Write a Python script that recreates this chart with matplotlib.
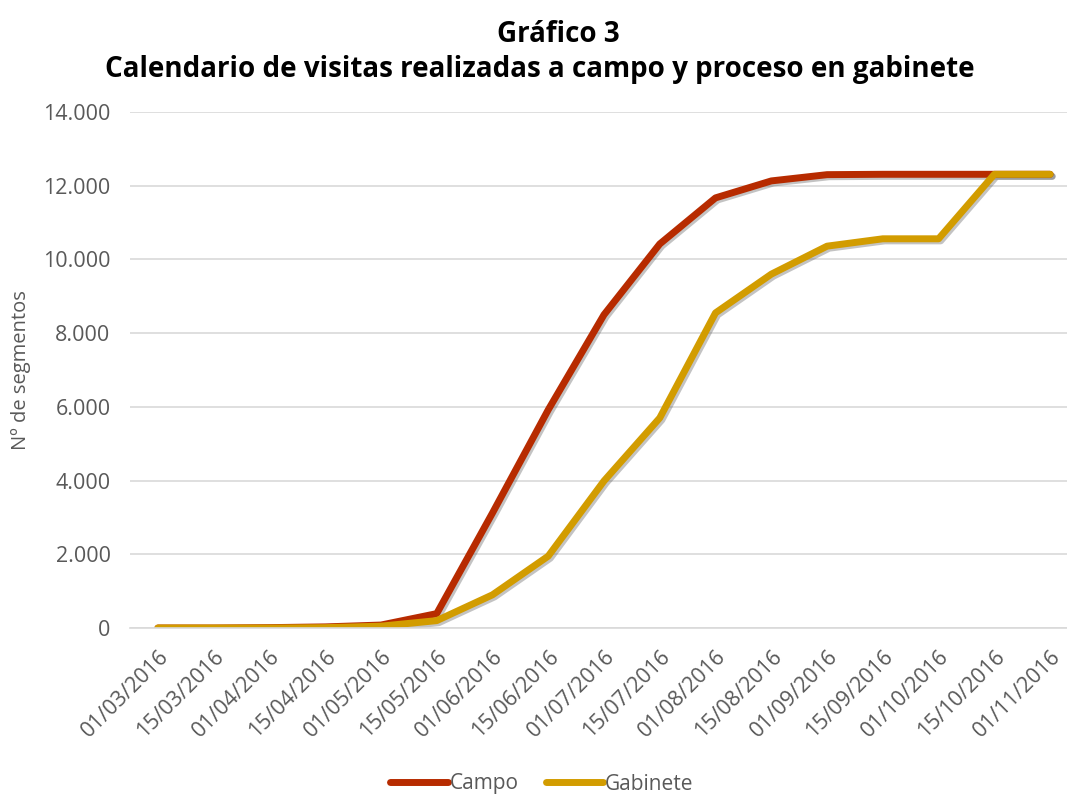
import matplotlib
matplotlib.use("Agg")
import matplotlib.pyplot as plt
import matplotlib.patheffects as pe
from matplotlib.ticker import FuncFormatter

plt.rcParams['font.family'] = ['Open Sans', 'DejaVu Sans']

fechas = ["01/03/2016", "15/03/2016", "01/04/2016", "15/04/2016", "01/05/2016",
          "15/05/2016", "01/06/2016", "15/06/2016", "01/07/2016", "15/07/2016",
          "01/08/2016", "15/08/2016", "01/09/2016", "15/09/2016", "01/10/2016",
          "15/10/2016", "01/11/2016"]
campo = [0, 0, 10, 30, 80, 390, 3120, 5920, 8500, 10420, 11670, 12130, 12300,
         12310, 12310, 12310, 12310]
gabinete = [0, 0, 0, 10, 50, 200, 900, 1950, 3990, 5700, 8550, 9600, 10360,
            10560, 10560, 12310, 12310]

fig = plt.figure(figsize=(10.67, 7.96), dpi=100)
ax = fig.add_axes([130/1067, 1 - 628/796, 948/1067, 516/796])

x = list(range(len(fechas)))
sombra = [pe.SimpleLineShadow(offset=(1.5, -1.5), alpha=0.35, shadow_color='#555555'), pe.Normal()]
ax.plot(x, campo, color='#B72B00', lw=5, label='Campo', solid_capstyle='round',
        solid_joinstyle='round', path_effects=sombra)
ax.plot(x, gabinete, color='#D29C00', lw=5, label='Gabinete', solid_capstyle='round',
        solid_joinstyle='round', path_effects=sombra)

ax.set_xlim(-0.5, len(fechas) - 0.5)
ax.set_ylim(0, 14000)
ax.set_yticks(range(0, 14001, 2000))
ax.yaxis.set_major_formatter(FuncFormatter(lambda v, p: f"{int(v):,}".replace(",", ".")))
ax.set_xticks(x)
ax.set_xticklabels(fechas, rotation=45, ha='right', rotation_mode='anchor')
ax.grid(axis='y', color='#D9D9D9', lw=1.2)
ax.set_axisbelow(True)
for s in ['top', 'right', 'left']:
    ax.spines[s].set_visible(False)
ax.spines['bottom'].set_color('#D9D9D9')
ax.spines['bottom'].set_linewidth(1.2)
ax.tick_params(axis='both', length=0, labelsize=15.5, labelcolor='#595959')
ax.tick_params(axis='y', pad=14)
ax.tick_params(axis='x', pad=13)
ax.set_ylabel('Nº de segmentos', fontsize=14.5, color='#595959', labelpad=9)

fig.text(558/1067, 1 - 35/796, 'Gráfico 3', ha='center', va='center', fontsize=20, fontweight='bold')
fig.text(540/1067, 1 - 70/796, 'Calendario de visitas realizadas a campo y proceso en gabinete',
         ha='center', va='center', fontsize=20, fontweight='bold')

leg = fig.legend(loc='center', bbox_to_anchor=(542/1067, 1 - 784/796), ncol=2, frameon=False,
                 fontsize=15, handlelength=2.75, handletextpad=0.1, columnspacing=1.3)
for t in leg.get_texts():
    t.set_color('#595959')
for l in leg.get_lines():
    l.set_linewidth(5)
    l.set_path_effects([])

fig.savefig('out.png', dpi=100)
